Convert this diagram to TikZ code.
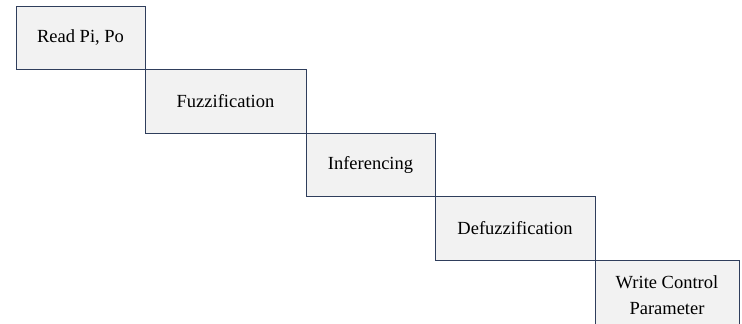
\documentclass[tikz,border=0pt]{standalone}
\usepackage{fontspec}
\setmainfont{Liberation Serif}
\usetikzlibrary{positioning}
\definecolor{stageline}{HTML}{2F3E5C}
\definecolor{stagefill}{HTML}{F2F2F2}
\tikzset{stage/.style={draw=stageline, fill=stagefill, line width=1pt, minimum height=63.5pt, inner sep=0pt, outer sep=0pt, align=center, anchor=north west, font=\fontsize{18.5}{26}\selectfont}}
\begin{document}
\begin{tikzpicture}[x=1pt,y=-1pt]
				\useasboundingbox (0,0) rectangle (742,324);
				\node [stage, minimum width=129pt] (read) at (16,6) {Read Pi, Po};
				\node [stage, minimum width=161pt] (fuzz) at (read.south east) {Fuzzification};
				\node [stage, minimum width=129pt] (infer) at (fuzz.south east) {Inferencing};
				\node [stage, minimum width=160pt] (defuzz) at (infer.south east) {Defuzzification};
				\node [stage, minimum width=144pt, minimum height=70pt] (write) at (defuzz.south east) {Write Control\\Parameter};
			\end{tikzpicture}
\end{document}
